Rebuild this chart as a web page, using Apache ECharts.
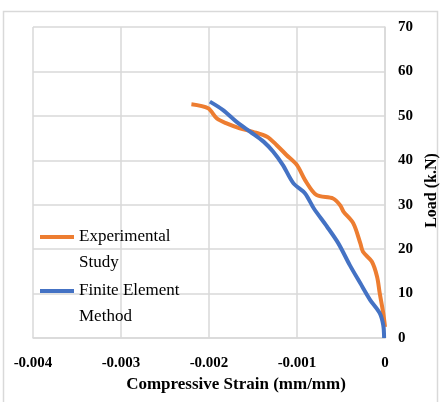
<!DOCTYPE html>
<html>
<head>
<meta charset="utf-8">
<script src="https://cdn.jsdelivr.net/npm/echarts@6/dist/echarts.min.js"></script>
<style>html,body{margin:0;padding:0;background:#fff}#c{width:441px;height:402px}</style>
</head>
<body>
<div id="c"></div>
<script>
const seriesNames = ['Experimental\nStudy', 'Finite Element\nMethod'];
const expStrain = [-0.00220, -0.00201, -0.00191, -0.00180, -0.00165, -0.00150, -0.00134, -0.00123, -0.00112, -0.00100, -0.00091, -0.00078, -0.00059, -0.00051, -0.00047, -0.00036, -0.00028, -0.00025, -0.00015, -0.00009, -0.00006, -0.00002, 0];
const expLoad   = [52.6, 51.7, 49.4, 48.3, 47.2, 46.4, 45.3, 43.4, 41.2, 38.9, 35.6, 32.2, 31.4, 29.9, 28.4, 25.8, 21.3, 19.4, 17.2, 13.8, 10.1, 5.6, 2.5];
const femStrain = [-0.00199, -0.00184, -0.00169, -0.00153, -0.00138, -0.00127, -0.00116, -0.00104, -0.00091, -0.00081, -0.00066, -0.00053, -0.00040, -0.00028, -0.00017, -0.00006, -0.00002, -0.00001];
const femLoad   = [53.2, 51.3, 48.7, 46.4, 44.2, 41.9, 38.9, 34.8, 32.6, 29.2, 25.1, 21.3, 16.4, 12.3, 8.6, 5.6, 2.9, 0];
const xTicks = { min: -0.004, max: 0, interval: 0.001 };
const yTicks = { min: 0, max: 70, interval: 10 };

const serif = "'Liberation Serif', 'Times New Roman', serif";
const pairs = (xs, ys) => xs.map((x, i) => [x, ys[i]]);
const chart = echarts.init(document.getElementById('c'), null, { renderer: 'canvas' });
chart.setOption({
  animation: false,
  backgroundColor: '#fff',
  graphic: [{
    type: 'rect', silent: true, z: -1,
    shape: { x: 3.5, y: 11.5, width: 434, height: 420 },
    style: { fill: 'none', stroke: '#d9d9d9', lineWidth: 1.5 }
  }],
  grid: { left: 33, right: 56, top: 27, bottom: 64, containLabel: false, outerBoundsMode: 'none' },
  legend: {
    orient: 'vertical', left: 40, top: 198, padding: 0,
    icon: 'rect', itemWidth: 34, itemHeight: 4, itemGap: -24,
    formatter: n => '\n' + n,
    textStyle: { fontFamily: serif, fontSize: 17, color: '#000', lineHeight: 26 },
    data: seriesNames
  },
  xAxis: {
    type: 'value', min: xTicks.min, max: xTicks.max, interval: xTicks.interval,
    name: 'Compressive Strain (mm/mm)', nameLocation: 'middle', nameGap: 38,
    nameTextStyle: { fontFamily: serif, fontSize: 17, fontWeight: 'bold', color: '#000', padding: [0, 0, 0, 54] },
    axisLine: { show: true, lineStyle: { color: '#d9d9d9', width: 1.5 } },
    axisTick: { show: false },
    axisLabel: { fontFamily: serif, fontSize: 15, fontWeight: 'bold', color: '#000', margin: 18 },
    splitLine: { show: true, lineStyle: { color: '#d9d9d9', width: 1.5 } }
  },
  yAxis: {
    type: 'value', position: 'right', min: yTicks.min, max: yTicks.max, interval: yTicks.interval,
    name: 'Load (k.N)', nameLocation: 'middle', nameGap: 32,
    nameTextStyle: { fontFamily: serif, fontSize: 16, fontWeight: 'bold', color: '#000', padding: [0, 16, 0, 0] },
    axisLine: { show: true, lineStyle: { color: '#d9d9d9', width: 1.5 } },
    axisTick: { show: false },
    axisLabel: { fontFamily: serif, fontSize: 15, fontWeight: 'bold', color: '#000', margin: 13 },
    splitLine: { show: true, lineStyle: { color: '#d9d9d9', width: 1.5 } }
  },
  series: [
    { name: seriesNames[0], type: 'line', data: pairs(expStrain, expLoad), showSymbol: false, smooth: 0.3,
      itemStyle: { color: '#ED7D31' }, lineStyle: { color: '#ED7D31', width: 4 } },
    { name: seriesNames[1], type: 'line', data: pairs(femStrain, femLoad), showSymbol: false, smooth: 0.3,
      itemStyle: { color: '#4472C4' }, lineStyle: { color: '#4472C4', width: 4 } }
  ]
});
</script>
</body>
</html>
